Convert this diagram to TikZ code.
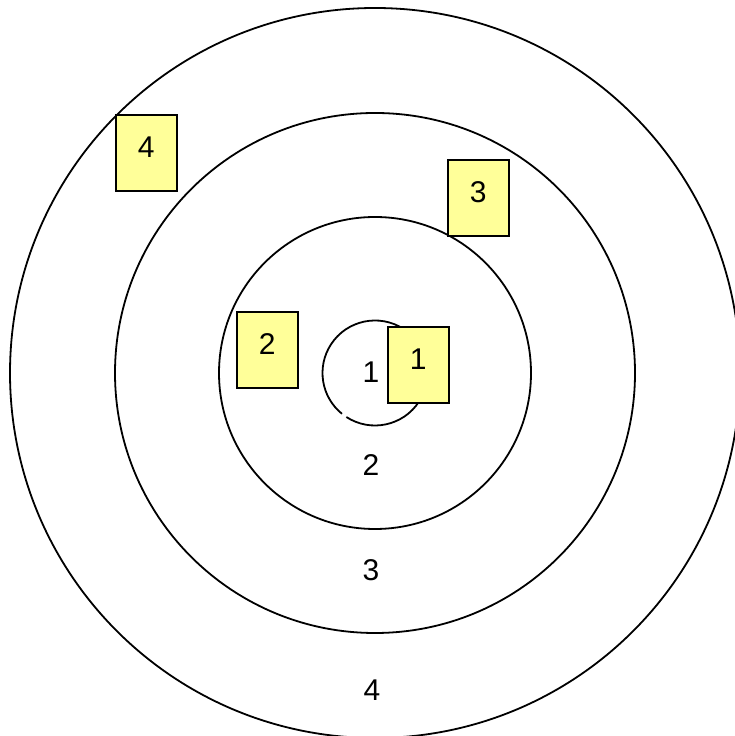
\documentclass[tikz,border=0pt]{standalone}
\usepackage{fontspec}
\setmainfont{Liberation Sans}
\definecolor{stickyyellow}{HTML}{FFFF99}
\begin{document}
\begin{tikzpicture}[x=1pt,y=1pt,
  ring/.style={draw=black,line width=1.8pt},
  sticky/.style={draw=black,fill=stickyyellow,line width=1.6pt,minimum width=61pt,minimum height=76pt,inner sep=0pt,anchor=north west},
  num/.style={font=\fontsize{30}{36}\selectfont,inner sep=0pt}]
\useasboundingbox (0,0) rectangle (734,736);
\coordinate (c) at (375,363);
% rings
\draw[ring] (c) circle[radius=365];
\draw[ring] (c) circle[radius=260];
\draw[ring] (c) circle[radius=156];
\draw[ring] ([shift={(237:52.5)}]c) arc[start angle=237,end angle=591,radius=52.5];
% ring labels
\node[num] (l1) at (371,364) {1};
\node[num] (l2) at (371,271) {2};
\node[num] (l3) at (371,166) {3};
\node[num] (l4) at (372,46) {4};
% sticky notes
\node[sticky] (b4) at (115,622) {};
\node[sticky] (b3) at (447,577) {};
\node[sticky] (b2) at (236,425) {};
\node[sticky] (b1) at (387,410) {};
\node[num] (t4) at ([yshift=-33pt]b4.north) {4};
\node[num] (t3) at ([yshift=-33pt]b3.north) {3};
\node[num] (t2) at ([yshift=-33pt]b2.north) {2};
\node[num] (t1) at ([yshift=-33pt]b1.north) {1};
\end{tikzpicture}
\end{document}
